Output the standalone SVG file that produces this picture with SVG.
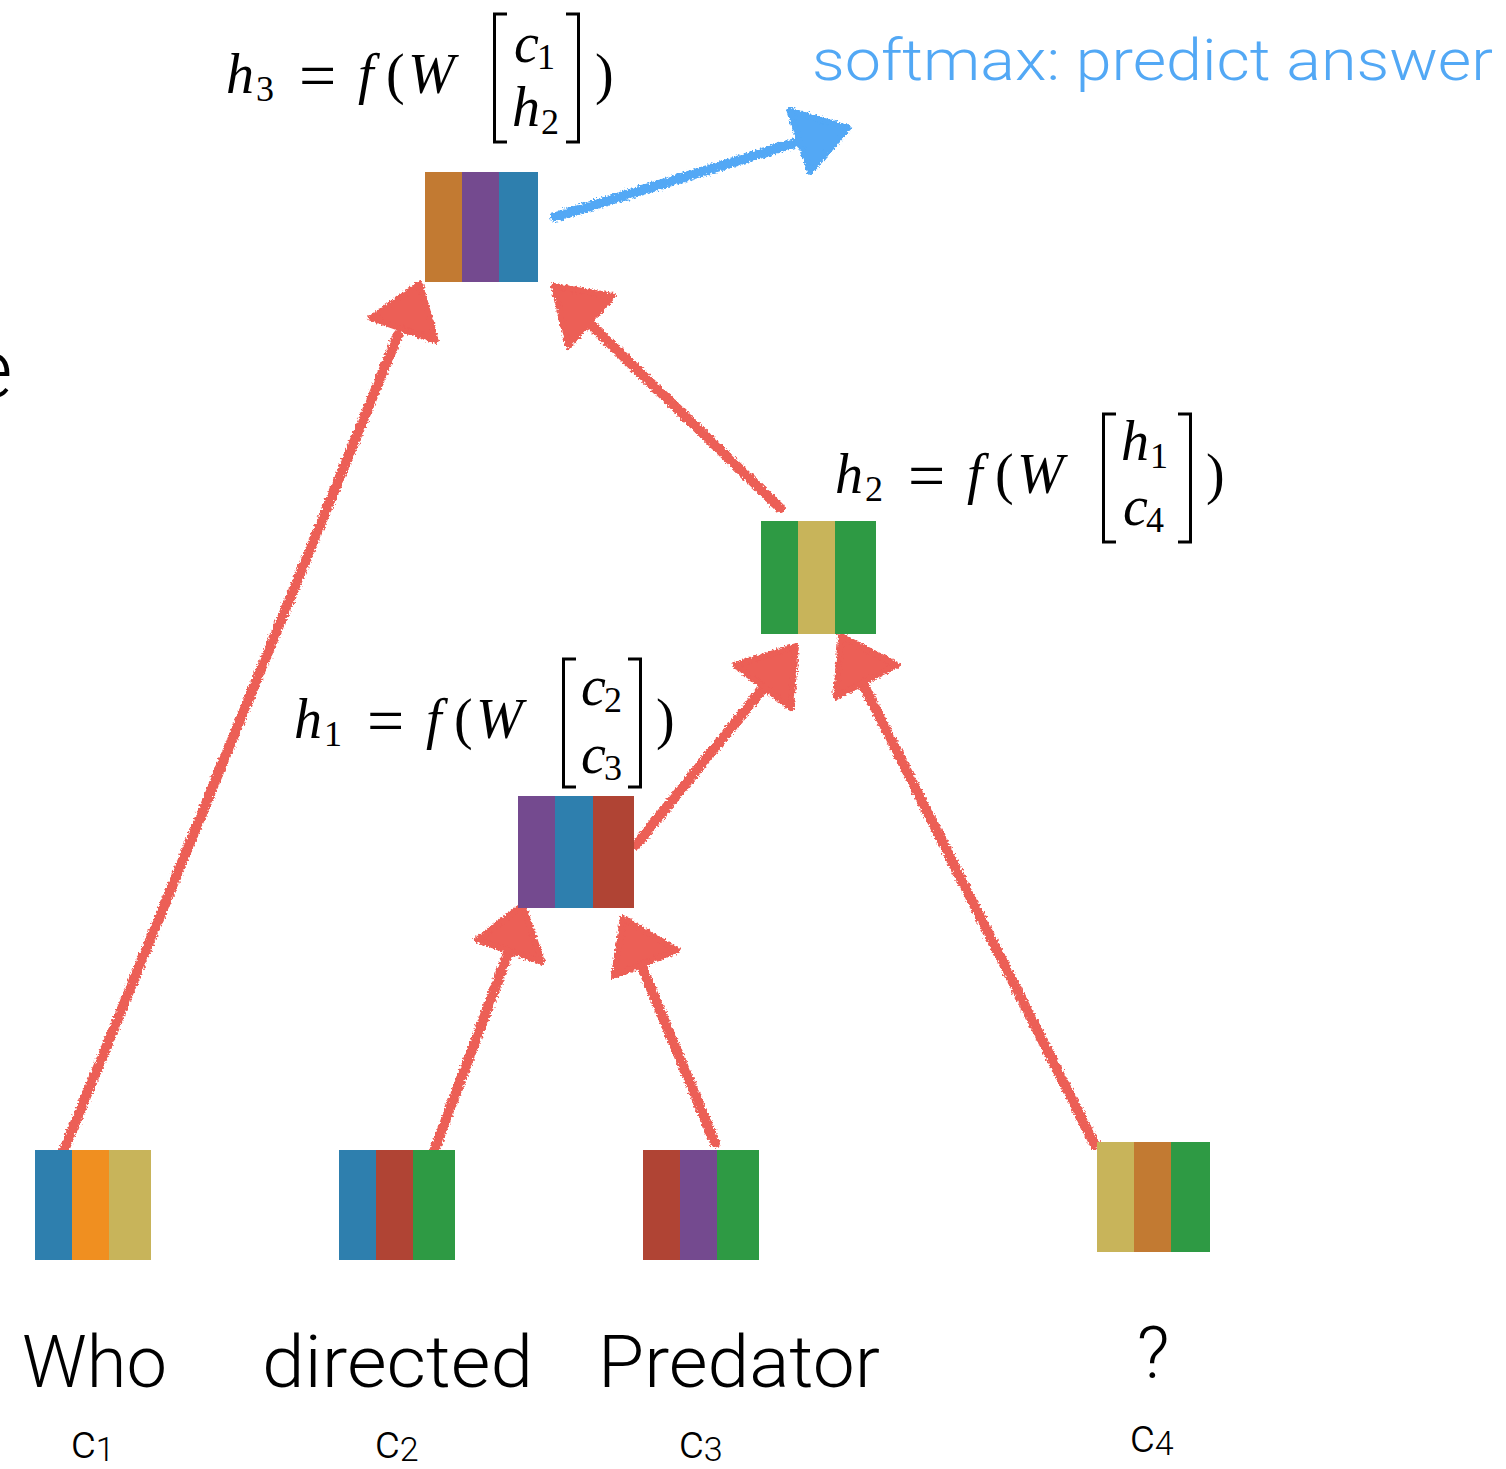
<svg xmlns="http://www.w3.org/2000/svg" width="1506" height="1469" viewBox="0 0 1506 1469">
<defs>
<style>
.lbl{font-family:Roboto,"Liberation Sans",sans-serif;font-weight:300;fill:#000}
.m{font-family:"Liberation Serif","DejaVu Serif",serif;fill:#000}
.mi{font-family:"Liberation Serif","DejaVu Serif",serif;font-style:italic;fill:#000}
.eq{font-family:"Liberation Serif","DejaVu Serif",serif;fill:#000;font-size:66px}
.br{fill:none;stroke:#000;stroke-width:3}
.rl{fill:none;stroke:#ec5e56;stroke-width:10;stroke-linecap:round}
.rh{fill:#ec5e56;stroke:#ec5e56;stroke-width:6;stroke-linejoin:round}
.bl{fill:none;stroke:#52a8f5;stroke-width:10;stroke-linecap:round}
.bh{fill:#52a8f5;stroke:#52a8f5;stroke-width:6;stroke-linejoin:round}
.s-blue{fill:#2e7fae}.s-orange{fill:#f08f20}.s-olive{fill:#c8b45a}
.s-red{fill:#b04434}.s-green{fill:#2e9a44}.s-purple{fill:#744a8f}.s-brown{fill:#c27a32}
</style>
<filter id="rough" x="-10%" y="-10%" width="120%" height="120%">
<feTurbulence type="fractalNoise" baseFrequency="0.45" numOctaves="2" seed="3" result="n"/>
<feDisplacementMap in="SourceGraphic" in2="n" scale="6" xChannelSelector="R" yChannelSelector="G"/>
</filter>
</defs>
<rect width="1506" height="1469" fill="#fff"/>

<text class="lbl" x="-30" y="397" font-size="82">e</text>

<g id="connectors" filter="url(#rough)">
<g id="e-c1-h3"><path class="rl" d="M62,1155 L398,335"/><polygon class="rh" points="420,284 371,318 436,341"/></g>
<g id="e-h2-h3"><path class="rl" d="M780,508 L592,326"/><polygon class="rh" points="554,286 613,296 568,346"/></g>
<g id="e-h1-h2"><path class="rl" d="M636,845 L765,686"/><polygon class="rh" points="796,646 735,665 791,708"/></g>
<g id="e-c4-h2"><path class="rl" d="M1095,1145 L862,682"/><polygon class="rh" points="841,636 897,665 836,697"/></g>
<g id="e-c2-h1"><path class="rl" d="M432,1157 L510,948"/><polygon class="rh" points="523,905 477,940 542,962"/></g>
<g id="e-c3-h1"><path class="rl" d="M715,1143 L640,962"/><polygon class="rh" points="623,918 677,950 614,976"/></g>
<g id="e-h3-out"><path class="bl" d="M555,217 L795,143"/><polygon class="bh" points="848,128 789,110 810,172"/></g>
</g>

<text id="softmax" x="812" y="80" font-family="'Helvetica Neue',Roboto,'Liberation Sans',sans-serif" font-weight="300" font-size="58" fill="#52a8f5" textLength="681" lengthAdjust="spacingAndGlyphs">softmax: predict answer</text>

<g id="h3">
<rect class="s-brown" x="425" y="172" width="38" height="110"/>
<rect class="s-purple" x="462" y="172" width="38" height="110"/>
<rect class="s-blue" x="499" y="172" width="39" height="110"/>
<g id="f-h3">
<text class="mi" x="226" y="93" font-size="56">h</text><text class="m" x="256" y="101" font-size="36">3</text>
<text class="eq" x="299" y="98">=</text>
<text class="mi" x="358" y="93" font-size="56">f</text><text class="m" x="386" y="93" font-size="56">(</text>
<text class="mi" x="408" y="93" font-size="56">W</text>
<path class="br" d="M507,14 H494.5 V142 H507"/>
<text class="mi" x="514" y="62" font-size="56">c</text><text class="m" x="537" y="69" font-size="36">1</text>
<text class="mi" x="512" y="126" font-size="56">h</text><text class="m" x="541" y="134" font-size="36">2</text>
<path class="br" d="M566,14 H578.5 V142 H566"/>
<text class="m" x="595" y="93" font-size="56">)</text>
</g>
</g>

<g id="h2">
<rect class="s-green" x="761" y="521" width="38" height="113"/>
<rect class="s-olive" x="798" y="521" width="38" height="113"/>
<rect class="s-green" x="835" y="521" width="41" height="113"/>
<g id="f-h2">
<text class="mi" x="835" y="493" font-size="56">h</text><text class="m" x="865" y="501" font-size="36">2</text>
<text class="eq" x="908" y="498">=</text>
<text class="mi" x="967" y="493" font-size="56">f</text><text class="m" x="995" y="493" font-size="56">(</text>
<text class="mi" x="1017" y="493" font-size="56">W</text>
<path class="br" d="M1116,414 H1103.5 V542 H1116"/>
<text class="mi" x="1121" y="460" font-size="56">h</text><text class="m" x="1150" y="468" font-size="36">1</text>
<text class="mi" x="1123" y="525" font-size="56">c</text><text class="m" x="1146" y="532" font-size="36">4</text>
<path class="br" d="M1178,414 H1190.5 V542 H1178"/>
<text class="m" x="1206" y="493" font-size="56">)</text>
</g>
</g>

<g id="h1">
<rect class="s-purple" x="518" y="796" width="38" height="112"/>
<rect class="s-blue" x="555" y="796" width="39" height="112"/>
<rect class="s-red" x="593" y="796" width="41" height="112"/>
<g id="f-h1">
<text class="mi" x="294" y="738" font-size="56">h</text><text class="m" x="324" y="746" font-size="36">1</text>
<text class="eq" x="367" y="743">=</text>
<text class="mi" x="426" y="738" font-size="56">f</text><text class="m" x="454" y="738" font-size="56">(</text>
<text class="mi" x="476" y="738" font-size="56">W</text>
<path class="br" d="M576,659 H563.5 V787 H576"/>
<text class="mi" x="581" y="705" font-size="56">c</text><text class="m" x="604" y="712" font-size="36">2</text>
<text class="mi" x="581" y="773" font-size="56">c</text><text class="m" x="604" y="780" font-size="36">3</text>
<path class="br" d="M628,659 H640.5 V787 H628"/>
<text class="m" x="656" y="738" font-size="56">)</text>
</g>
</g>

<g id="c1">
<rect class="s-blue" x="35" y="1150" width="38" height="110"/>
<rect class="s-orange" x="72" y="1150" width="38" height="110"/>
<rect class="s-olive" x="109" y="1150" width="42" height="110"/>
<text class="lbl" x="22" y="1387" font-size="72" textLength="145" lengthAdjust="spacingAndGlyphs">Who</text>
<text class="lbl" x="71" y="1458" font-size="48">c<tspan font-size="34" dy="3">1</tspan></text>
</g>

<g id="c2">
<rect class="s-blue" x="339" y="1150" width="38" height="110"/>
<rect class="s-red" x="376" y="1150" width="38" height="110"/>
<rect class="s-green" x="413" y="1150" width="42" height="110"/>
<text class="lbl" x="262" y="1387" font-size="72" textLength="271" lengthAdjust="spacingAndGlyphs">directed</text>
<text class="lbl" x="375" y="1458" font-size="48">c<tspan font-size="34" dy="3">2</tspan></text>
</g>

<g id="c3">
<rect class="s-red" x="643" y="1150" width="38" height="110"/>
<rect class="s-purple" x="680" y="1150" width="38" height="110"/>
<rect class="s-green" x="717" y="1150" width="42" height="110"/>
<text class="lbl" x="598" y="1387" font-size="72" textLength="282" lengthAdjust="spacingAndGlyphs">Predator</text>
<text class="lbl" x="679" y="1458" font-size="48">c<tspan font-size="34" dy="3">3</tspan></text>
</g>

<g id="c4">
<rect class="s-olive" x="1097" y="1142" width="38" height="110"/>
<rect class="s-brown" x="1134" y="1142" width="38" height="110"/>
<rect class="s-green" x="1171" y="1142" width="39" height="110"/>
<text class="lbl" x="1153" y="1378" font-size="72" text-anchor="middle">?</text>
<text class="lbl" x="1130" y="1452" font-size="48">c<tspan font-size="34" dy="3">4</tspan></text>
</g>
</svg>
